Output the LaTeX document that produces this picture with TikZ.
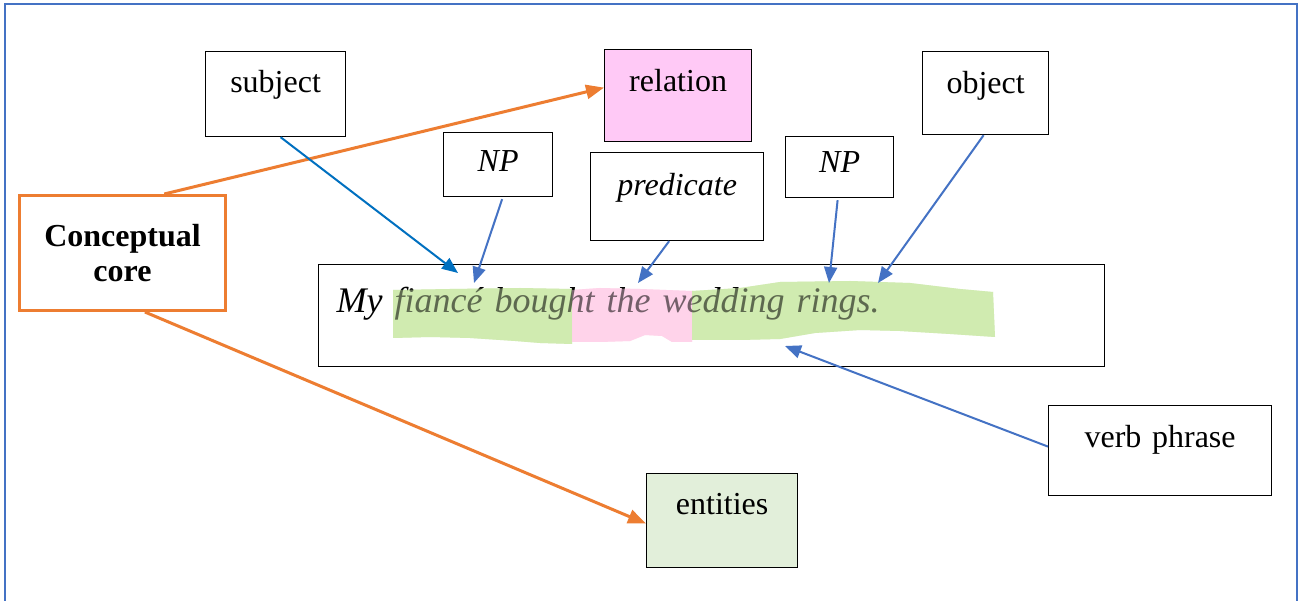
\documentclass[tikz,border=0pt]{standalone}
\usepackage{fontspec}
\setmainfont{Liberation Serif}
\usetikzlibrary{arrows.meta,calc}
\definecolor{frameblue}{HTML}{4472C4}
\definecolor{arrblue}{HTML}{4472C4}
\definecolor{darkblue}{HTML}{0070C0}
\definecolor{corange}{HTML}{ED7D31}
\definecolor{relpink}{HTML}{FFC9F6}
\definecolor{entgreen}{HTML}{E2EFDA}
\definecolor{hlgreen}{HTML}{D0EBB0}
\definecolor{hlpink}{HTML}{FFD3EA}
\tikzset{
  box/.style={draw=black, line width=1.2pt, inner sep=0pt, anchor=north west, align=center,
    font=\fontsize{32}{36}\selectfont},
  bluearrow/.style={draw=arrblue, line width=2pt, -{Triangle[length=16pt,width=13pt]}},
  orangearrow/.style={draw=corange, line width=3pt, -{Triangle[length=18pt,width=14pt]}},
  hlg/.style={fill=hlgreen, draw=none},
  hlp/.style={fill=hlpink, draw=none},
}
\newcommand\greenone{(393,290) -- (450,289) -- (520,288) -- (572,289) -- (572,344) -- (540,343) -- (515,341) -- (470,338) -- (430,337) -- (393,338) -- cycle}
\newcommand\pinkone{(572,290) -- (600,288) -- (640,289) -- (692,291) -- (692,342) -- (672,342) -- (662,336) -- (645,335) -- (630,341) -- (600,342) -- (572,342) -- cycle}
\newcommand\greentwo{(692,291) -- (740,288) -- (780,282) -- (850,281) -- (910,283) -- (960,289) -- (993,292) -- (995,337) -- (950,334) -- (900,331) -- (860,330) -- (815,333) -- (780,339) -- (740,340) -- (692,340) -- cycle}
\begin{document}
\begin{tikzpicture}[x=1pt,y=-1pt]
\useasboundingbox (0,0) rectangle (1303,601);
\clip (0,0) rectangle (1303,601);
\fill[white] (0,0) rectangle (1303,601);
\draw[frameblue, line width=1.2pt] (5,4) rectangle (1297,640);

% highlights (under the text)
\fill[hlg] \greenone;
\fill[hlp] \pinkone;
\fill[hlg] \greentwo;

% boxes
\node[box, text width=140pt, text height=41pt, text depth=44pt] (subj) at (205,51) {subject};
\node[box, fill=relpink, text width=147pt, text height=42pt, text depth=50pt] (rel) at (604,49) {relation};
\node[box, text width=126pt, text height=42pt, text depth=41pt] (obj) at (922,51) {object};
\node[box, text width=109pt, text height=39pt, text depth=25pt, font=\fontsize{32}{36}\selectfont\itshape] (np1) at (443,132) {NP};
\node[box, text width=173pt, text height=43pt, text depth=45pt, font=\fontsize{32}{36}\selectfont\itshape] (pred) at (590,152) {predicate};
\node[box, text width=108pt, text height=36pt, text depth=25pt, font=\fontsize{32}{36}\selectfont\itshape] (np2) at (785,136) {NP};
\node[box, draw=corange, line width=3pt, minimum width=206pt, minimum height=115pt, text width=206pt,
  font=\fontsize{32}{36}\selectfont\bfseries] (core) at (18,194) {Conceptual\\[-0.5pt]core};
\node[box, align=left, inner xsep=18pt, text width=750pt, text height=48pt, text depth=54pt,
  font=\fontsize{36}{40}\selectfont\itshape] (sent) at (318,264) {My fiancé bought the wedding rings.};
\node[box, text width=223pt, text height=42pt, text depth=48pt] (vp) at (1048,405) {verb phrase};
\node[box, fill=entgreen, text width=151pt, text height=41pt, text depth=53pt] (ent) at (646,473) {entities};

% highlights (over the text, translucent)
\fill[hlg, fill opacity=0.45] \greenone;
\fill[hlp, fill opacity=0.45] \pinkone;
\fill[hlg, fill opacity=0.45] \greentwo;

% connectors
\draw[orangearrow] ($(core.north west)!0.70!(core.north east)$) -- ([yshift=8pt]rel.west);
\draw[orangearrow] ($(core.south west)!0.607!(core.south east)$) -- ([yshift=-3pt]ent.west);
\draw[bluearrow, draw=darkblue] ([xshift=5pt]subj.south) -- ($(sent.north west)+(140,9)$);
\draw[bluearrow] ([xshift=4pt,yshift=-2pt]np1.south) -- ($(sent.north west)+(156,19)$);
\draw[bluearrow] ([xshift=-8pt]pred.south) -- ($(sent.north west)+(320,19)$);
\draw[bluearrow] ([xshift=-2pt,yshift=-2pt]np2.south) -- ($(sent.north west)+(511,19)$);
\draw[bluearrow] ([xshift=-2pt]obj.south) -- ($(sent.north west)+(560,19)$);
\draw[bluearrow] ([yshift=4pt]vp.west) -- ($(sent.north west)+(467,82)$);
\end{tikzpicture}
\end{document}
